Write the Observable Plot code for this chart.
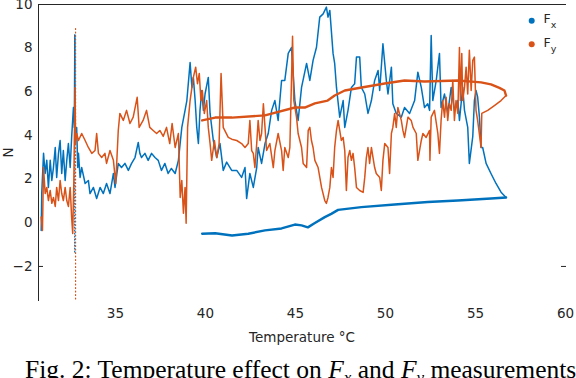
<!DOCTYPE html>
<html><head><meta charset="utf-8">
<script src="https://cdn.jsdelivr.net/npm/d3@7"></script>
<script src="https://cdn.jsdelivr.net/npm/@observablehq/plot@0.6"></script>
<style>
html,body{margin:0;padding:0;background:#fff;overflow:hidden;width:576px;height:378px}
#wrap{position:relative;width:576px;height:378px;overflow:hidden}
#overlay{position:absolute;left:0;top:0;pointer-events:none}
</style></head>
<body><div id="wrap"></div>
<script>
// Temperature (°C), force (N) pairs, in time order
const fxForward = [[30.88,-0.35],[30.91,1.34],[31.01,3.18],[31.10,2.26],[31.19,2.86],[31.28,1.62],[31.38,2.86],[31.47,1.94],[31.56,2.53],[31.66,3.45],[31.74,2.08],[31.84,3.18],[31.93,3.77],[32.02,2.26],[32.11,3.31],[32.21,1.94],[32.30,2.86],[32.39,3.63],[32.49,2.53],[32.57,3.91],[32.67,5.28],[32.72,4.37],[32.75,8.6],[32.76,4.0],
[32.85,4.37],[32.91,2.53],[32.95,3.18],[33.04,2.08],[33.13,2.53],[33.32,1.80],[33.50,1.94],[33.59,1.34],[33.78,1.62],[33.96,1.11],[34.15,1.62],[34.33,1.34],[34.51,1.80],[34.70,1.34],[34.89,2.26],[34.98,1.62],[35.16,2.72],[35.34,2.53],[35.53,2.72],[35.72,2.40],[35.90,2.72],[36.09,2.99],[36.27,3.68],[36.36,3.18],[36.45,2.99],[36.64,3.18],[36.82,2.86],[37.01,3.18],[37.20,2.99],[37.38,2.86],[37.56,2.40],[37.75,2.72],[37.93,2.26],[38.11,2.49],[38.32,2.26],[38.50,2.86],[38.69,4.37],[38.87,5.15],[38.97,5.60],[39.15,7.34],[39.25,6.20],[39.33,6.66],[39.43,5.60],[39.52,4.37],[39.61,3.63],[39.70,5.15],[39.80,6.06],[39.89,5.15],[39.98,5.90],[40.16,6.66],[40.26,5.01],[40.44,3.77],[40.63,2.99],[40.81,3.63],[40.99,2.40],[41.18,2.78],[41.46,2.40],[41.74,2.40],[42.01,2.08],[42.20,2.53],[42.29,1.11],[42.47,2.26],[42.66,1.62],[42.85,2.53],[42.93,3.45],[43.12,2.72],[43.31,3.63],[43.49,4.09],[43.68,5.15],[43.86,5.60],[44.04,4.69],[44.23,6.52],[44.41,6.52],[44.60,7.76],[44.78,8.03],[44.97,5.60],[45.15,4.69],[45.34,6.20],[45.62,7.30],[45.80,6.52],[45.98,7.44],[46.17,8.04],[46.35,9.42],[46.54,9.57],[46.72,9.88],[46.81,9.42],[46.91,9.73],[47.09,7.76],[47.18,7.30],[47.28,6.20],[47.46,4.84],[47.65,5.60],[47.74,4.37],[47.92,5.15],[48.11,6.20],[48.29,6.37],[48.39,7.59],[48.57,7.59],[48.66,6.20],[48.85,5.90],[49.03,5.01],[49.22,5.60],[49.40,6.52],[49.59,6.98],[49.68,6.06],[49.86,8.20],[50.05,6.52],[50.14,5.90],[50.33,7.13],[50.41,5.45],[50.60,5.01],[50.88,4.84],[51.06,5.28],[51.34,5.01],[51.62,5.60],[51.80,6.90],[51.99,6.20],[52.17,5.28],[52.35,5.45],[52.45,5.15],[52.54,8.58],[52.63,5.60],[52.82,6.52],[53.00,7.76],[53.09,5.28],[53.28,5.90],[53.46,5.01],[53.65,6.20],[53.83,5.15],[54.02,5.60],[54.11,4.69],[54.29,6.20],[54.39,5.15],[54.57,4.37],[54.66,2.72],[54.85,3.96],[54.94,5.60],[55.03,6.06],[55.12,5.76],[55.22,4.84],[55.31,3.45],[55.40,3.45],[55.59,2.72],[55.86,2.26],[56.14,1.80],[56.42,1.40],[56.70,1.16]];
const fxReturn = [[56.70,1.16],[55.86,1.11],[54.02,1.02],[52.35,0.95],[50.51,0.84],[48.66,0.72],[47.37,0.59],[46.99,0.41],[46.63,0.26],[46.08,-0.01],[45.69,-0.21],[45.34,-0.12],[44.97,-0.08],[44.23,-0.26],[43.31,-0.35],[42.38,-0.50],[41.48,-0.58],[40.54,-0.48],[39.82,-0.50]];
const fyForward = [[30.88,0.26],[30.95,-0.35],[31.01,2.53],[31.10,1.34],[31.19,1.62],[31.28,1.02],[31.38,1.48],[31.47,0.89],[31.56,1.16],[31.66,0.75],[31.74,1.62],[31.84,1.02],[31.93,1.94],[32.02,1.34],[32.11,1.02],[32.21,1.62],[32.30,1.02],[32.39,0.75],[32.49,1.62],[32.57,0.26],[32.63,-0.49],[32.69,1.80],[32.76,6.20],[32.79,3.6],
[32.85,4.09],[32.95,3.77],[33.13,4.09],[33.32,3.77],[33.50,3.45],[33.69,3.18],[33.87,3.31],[33.96,4.09],[34.06,3.18],[34.24,2.99],[34.42,3.18],[34.51,2.72],[34.70,3.31],[34.89,2.86],[35.02,1.80],[35.16,4.23],[35.25,5.01],[35.44,4.69],[35.62,5.15],[35.81,4.55],[35.99,4.84],[36.21,5.75],[36.32,4.37],[36.54,4.69],[36.73,5.15],[36.91,4.37],[37.10,4.23],[37.29,4.09],[37.47,4.23],[37.66,3.96],[37.84,4.37],[38.02,3.63],[38.15,4.55],[38.32,3.45],[38.50,4.09],[38.60,1.16],[38.69,1.94],[38.78,0.44],[38.87,1.62],[38.93,-0.02],[39.01,4.37],[39.15,5.60],[39.33,6.66],[39.46,7.13],[39.56,6.37],[39.66,6.84],[39.75,5.60],[39.83,6.06],[39.94,5.01],[40.07,5.60],[40.16,4.37],[40.26,3.63],[40.35,2.86],[40.50,3.77],[40.63,2.99],[40.76,3.63],[40.87,6.84],[40.99,4.37],[41.27,3.91],[41.46,3.83],[41.74,3.77],[42.01,3.63],[42.20,3.45],[42.38,3.63],[42.47,4.69],[42.57,3.31],[42.66,3.18],[42.75,2.53],[42.85,3.63],[42.93,4.69],[43.03,3.77],[43.12,4.09],[43.22,5.45],[43.31,4.37],[43.40,3.31],[43.58,3.63],[43.77,2.53],[43.86,3.31],[44.04,4.09],[44.23,3.31],[44.32,2.40],[44.41,3.45],[44.60,2.99],[44.69,3.45],[44.84,8.55],[44.91,5.60],[45.06,4.84],[45.15,4.09],[45.34,3.45],[45.43,2.72],[45.62,2.53],[45.71,4.23],[45.80,4.37],[45.89,3.77],[45.98,3.45],[46.08,2.86],[46.26,2.53],[46.45,1.62],[46.63,1.02],[46.72,0.89],[46.81,1.16],[46.91,1.62],[47.00,2.53],[47.09,2.08],[47.18,3.45],[47.28,4.23],[47.37,4.69],[47.46,4.23],[47.55,3.77],[47.65,3.91],[47.74,3.31],[47.83,1.48],[47.92,2.99],[48.02,3.31],[48.11,2.86],[48.20,3.18],[48.29,2.53],[48.39,1.62],[48.57,1.48],[48.76,1.39],[48.85,2.08],[48.94,2.99],[49.03,3.45],[49.12,2.72],[49.22,3.45],[49.31,2.99],[49.40,2.53],[49.49,2.26],[49.68,2.08],[49.77,1.48],[49.86,2.86],[49.96,3.63],[50.14,3.45],[50.23,2.26],[50.33,4.09],[50.41,4.37],[50.51,5.01],[50.60,4.37],[50.69,5.28],[50.88,4.69],[50.97,4.23],[51.06,3.91],[51.25,4.84],[51.43,4.69],[51.53,4.37],[51.71,4.09],[51.80,2.86],[51.99,3.77],[52.08,4.09],[52.26,3.91],[52.45,4.23],[52.47,2.86],[52.54,4.84],[52.72,5.15],[52.91,4.09],[53.00,3.18],[53.09,4.69],[53.18,5.60],[53.28,4.84],[53.37,5.75],[53.46,4.69],[53.55,5.45],[53.65,5.15],[53.74,6.52],[53.83,4.69],[53.92,5.60],[54.02,5.01],[54.11,8.03],[54.16,5.60],[54.24,7.76],[54.29,5.60],[54.39,6.20],[54.48,7.13],[54.57,5.90],[54.66,7.90],[54.76,6.06],[54.85,7.44],[54.94,7.59],[55.03,5.15],[55.12,4.69],[55.31,3.45],[55.35,5.01],[55.68,5.15],[56.05,5.37],[56.42,5.60],[56.70,5.83]];
const fyReturn = [[56.70,5.83],[56.61,6.06],[56.33,6.18],[55.86,6.34],[55.31,6.43],[54.02,6.52],[52.17,6.47],[51.06,6.52],[49.96,6.38],[48.68,6.20],[47.74,6.06],[47.18,5.83],[46.79,5.60],[46.08,5.47],[45.52,5.28],[44.97,5.28],[43.31,4.92],[41.48,4.82],[40.54,4.82],[39.82,4.69]];
const fxSpike = [[32.74,8.6],[32.74,-1.4]];
const fySpike = [[32.79,8.9],[32.79,-3.56]];

const xTicks = [35, 40, 45, 50, 55, 60];
const yTicks = [-2, 0, 2, 4, 6, 8, 10];
const xDomain = [30.73, 60];
const yDomain = [-3.56, 10];
const seriesNames = ["F", "F"];
const seriesSubs = ["x", "y"];
const colors = ["#0072BD", "#D95319"];
const axisColor = "#262626";

const toRows = a => a.map(([T, N]) => ({T, N}));

const plot = Plot.plot({
  width: 576, height: 350,
  marginLeft: 38, marginRight: 11, marginTop: 4, marginBottom: 50,
  style: {fontFamily: "DejaVu Sans, sans-serif", fontSize: "13.5px", color: axisColor, background: "transparent", overflow: "visible"},
  x: {domain: xDomain},
  y: {domain: yDomain},
  marks: [
    Plot.frame({anchor: "left", stroke: axisColor}),
    Plot.frame({anchor: "top", stroke: axisColor}),
    Plot.axisX({ticks: xTicks, tickSize: 0, tickPadding: 8, label: "Temperature °C", labelAnchor: "center", labelArrow: "none", labelOffset: 41}),
    Plot.axisY({ticks: yTicks, tickSize: 0, tickPadding: 6, label: "N", labelAnchor: "center", labelArrow: "none"}),
    Plot.axisY({ticks: [-2], tickSize: -5, tickFormat: () => "", label: null}),
    Plot.axisY({anchor: "right", ticks: [-2], tickSize: -5, tickFormat: () => "", label: null}),
    Plot.line(toRows(fxSpike), {x: "T", y: "N", stroke: colors[0], strokeWidth: 1.2, strokeDasharray: "1,2"}),
    Plot.line(toRows(fxReturn), {x: "T", y: "N", stroke: colors[0], strokeWidth: 2.4}),
    Plot.line(toRows(fxForward), {x: "T", y: "N", stroke: colors[0], strokeWidth: 1.5}),
    Plot.line(toRows(fySpike), {x: "T", y: "N", stroke: colors[1], strokeWidth: 1.2, strokeDasharray: "1,2.5"}),
    Plot.line(toRows(fyForward), {x: "T", y: "N", stroke: colors[1], strokeWidth: 1.5}),
    Plot.line(toRows(fyReturn), {x: "T", y: "N", stroke: colors[1], strokeWidth: 2.4})
  ]
});
const wrap = document.getElementById("wrap");
wrap.appendChild(plot);

// legend + caption overlay
const ov = d3.select(wrap).append("svg").attr("id", "overlay").attr("width", 576).attr("height", 378);
const lg = ov.append("g").attr("font-family", "DejaVu Sans, sans-serif").attr("fill", axisColor);
seriesNames.forEach((n, i) => {
  const cy = 20.7 + i * 23.5;
  lg.append("circle").attr("cx", 531.7).attr("cy", cy).attr("r", 3).attr("fill", colors[i]);
  const t = lg.append("text").attr("x", 543.5).attr("y", cy + 2.7).attr("font-size", 12.5);
  t.append("tspan").text(n);
  t.append("tspan").attr("dy", 5).attr("font-size", 9.5).text(seriesSubs[i]);
});
const cap = ov.append("text").attr("x", 25).attr("y", 378).attr("font-family", "Liberation Serif, Times New Roman, serif").attr("font-size", 25.5).attr("fill", "#000");
cap.append("tspan").text("Fig. 2: Temperature effect on ");
cap.append("tspan").attr("font-style", "italic").text("F");
cap.append("tspan").attr("font-style", "italic").attr("font-size", 17).attr("dy", 5).text("x");
cap.append("tspan").attr("dy", -5).text(" and ");
cap.append("tspan").attr("font-style", "italic").text("F");
cap.append("tspan").attr("font-style", "italic").attr("font-size", 17).attr("dy", 5).text("y");
cap.append("tspan").attr("dy", -5).text(" measurements");
</script></body></html>
